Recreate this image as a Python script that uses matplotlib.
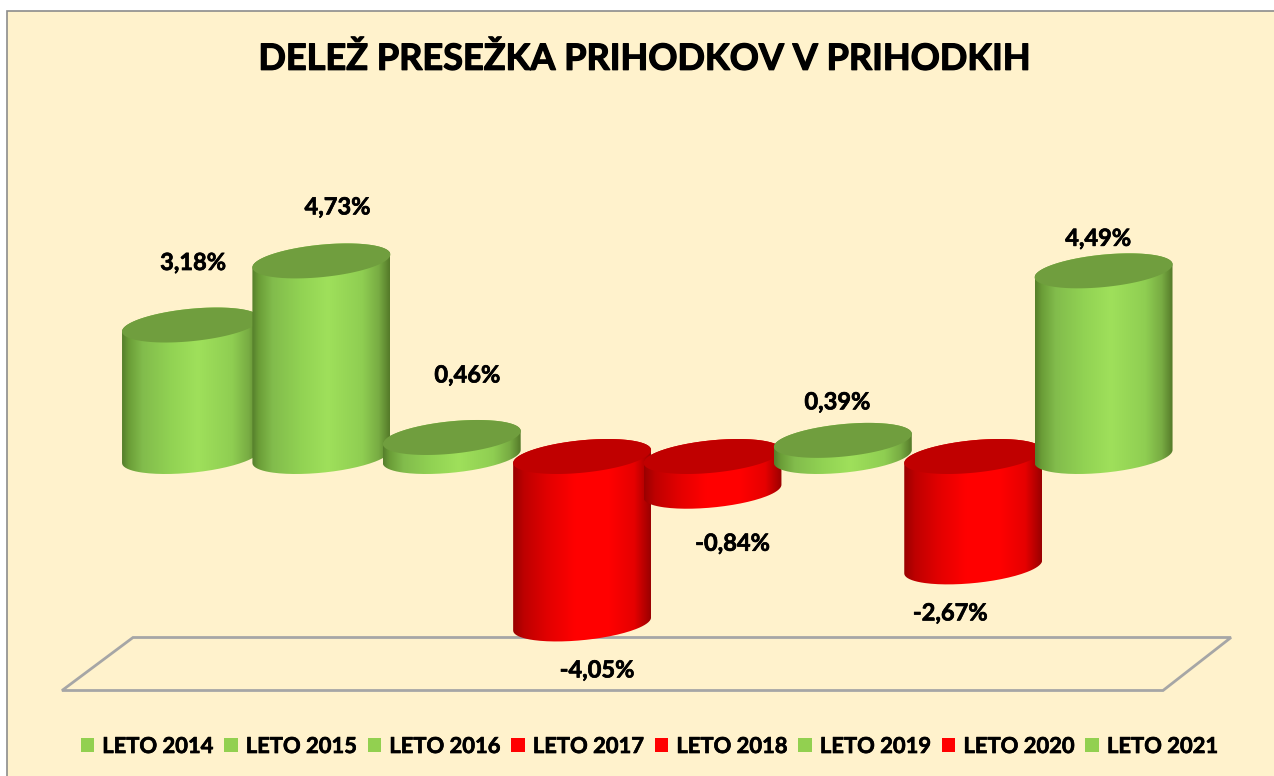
import numpy as np
import matplotlib
matplotlib.use("Agg")
import matplotlib.pyplot as plt
import matplotlib.patheffects as pe
from matplotlib.colors import LinearSegmentedColormap
from matplotlib.patches import Patch, PathPatch, Polygon, Rectangle
from matplotlib.path import Path

plt.rcParams['font.family'] = ['Lato', 'DejaVu Sans']

title = "DELEŽ PRESEŽKA PRIHODKOV V PRIHODKIH"
years = ["LETO 2014", "LETO 2015", "LETO 2016", "LETO 2017",
         "LETO 2018", "LETO 2019", "LETO 2020", "LETO 2021"]
values = [3.18, 4.73, 0.46, -4.05, -0.84, 0.39, -2.67, 4.49]

# label offsets from the end of each cylinder, in pixels
label_dx = [2, 16, 15.5, 15, 20, -5.5, -23, -5.5]
label_dy = [62.5, 54, 62.5, -46, -52, 38.5, -46, 32.5]

W, H = 1274, 776
BG = "#FFF2CC"

# cylinder shape, in data units
half_w = 0.529
tilt = 0.157
half_h = 0.393

green_cmap = LinearSegmentedColormap.from_list("green", [
    (0.0, "#567F2B"), (0.05, "#6B9E38"), (0.15, "#82BC4C"), (0.35, "#91D253"),
    (0.55, "#9FE05B"), (0.8, "#8FCE52"), (0.92, "#78AC43"), (1.0, "#557A29")])
red_cmap = LinearSegmentedColormap.from_list("red", [
    (0.0, "#9A0000"), (0.08, "#BE0000"), (0.25, "#E20000"), (0.45, "#FF0000"),
    (0.7, "#FF0000"), (0.88, "#E60000"), (1.0, "#9A0000")])
gradient = np.linspace(0, 1, 256).reshape(1, -1)
heavier = [pe.withStroke(linewidth=0.5, foreground="black")]


def ring(x, y, t):
    return np.column_stack([x + half_w * np.cos(t),
                            y + tilt * np.cos(t) + half_h * np.sin(t)])


fig = plt.figure(figsize=(W / 100, H / 100), dpi=100, facecolor="white")

# -------------------------
# Background, floor, title
# -------------------------
bg = fig.add_axes([0, 0, 1, 1])
bg.set_xlim(0, W)
bg.set_ylim(H, 0)
bg.axis("off")
bg.add_patch(Rectangle((6.5, 10.5), W + 10, H, facecolor=BG, edgecolor="#8C8C8C", linewidth=1.2))
bg.add_patch(Polygon([(62, 690.5), (133, 637.5), (1231, 637.5), (1163, 690.5)], closed=True,
                     fill=False, edgecolor="#A6A6A6", linewidth=2, joinstyle="miter"))
bg.text(644.5, 59, title, fontsize=26, fontweight="bold", color="black", ha="center", va="center",
        path_effects=[pe.withStroke(linewidth=0.9, foreground="black")])

# -------------------------
# Cylinders
# -------------------------
ax = fig.add_axes([0, 0, 1, 1])
ax.patch.set_alpha(0)
ax.axis("off")
xlim = (-191 / 130.37, (W - 191) / 130.37)
ylim = ((456.5 - H) / 41.35, 456.5 / 41.35)

for i, v in enumerate(values):
    top = max(v, 0)
    bottom = min(v, 0)
    cmap = green_cmap if v >= 0 else red_cmap
    cap_color = "#709E3E" if v >= 0 else "#C00000"

    # side: lower half of the bottom ring, then back along the top ring
    lower = ring(i, bottom, np.linspace(np.pi, 2 * np.pi, 80))
    upper = ring(i, top, np.linspace(0, np.pi, 80))
    side = np.vstack([lower, upper, lower[:1]])
    clip = PathPatch(Path(side), transform=ax.transData, facecolor="none", edgecolor="none")
    ax.add_patch(clip)
    im = ax.imshow(gradient, cmap=cmap, aspect="auto", interpolation="bilinear",
                   extent=(i - half_w, i + half_w, bottom - 1, top + 1), zorder=2 + i)
    im.set_clip_path(clip)

    cap = ring(i, top, np.linspace(0, 2 * np.pi, 160))
    ax.add_patch(Polygon(cap, closed=True, facecolor=cap_color, edgecolor="none", zorder=2.5 + i))

    label = f"{v:.2f}%".replace(".", ",")
    ax.annotate(label, xy=(i, v), xytext=(label_dx[i] * 0.72, label_dy[i] * 0.72),
                textcoords="offset points", ha="center", va="center",
                fontsize=17, fontweight="bold", color="black", zorder=20, path_effects=heavier)

ax.set_xlim(xlim)
ax.set_ylim(ylim)

# -------------------------
# Legend
# -------------------------
handles = [Patch(facecolor="#92D050" if v >= 0 else "#FF0000", edgecolor="none", label=y)
           for y, v in zip(years, values)]
leg = bg.legend(handles=handles, loc="center", bbox_to_anchor=(649.5, 746.5),
                bbox_transform=bg.transData, ncol=8, frameon=False,
                prop={"size": 15.8, "weight": "bold"},
                handlelength=0.62, handleheight=0.62, handletextpad=0.37, columnspacing=0.47,
                borderpad=0, borderaxespad=0)
for t in leg.get_texts():
    t.set_path_effects(heavier)

fig.savefig("out.png", dpi=100)
